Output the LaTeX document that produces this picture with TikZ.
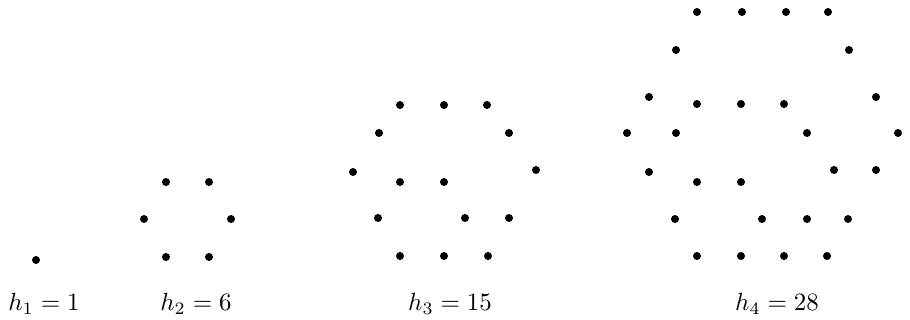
\documentclass[tikz,border=0pt]{standalone}
\usepackage{tikz}

\begin{document}
\begin{tikzpicture}[x=0.0141cm, y=-0.0141cm]
\useasboundingbox (0,0) rectangle (910,320);
% h_1
\fill[black] (36,260) circle (1.6pt);
% h_2
\fill[black] (166,182) circle (1.6pt);
\fill[black] (209,182) circle (1.6pt);
\fill[black] (144,219) circle (1.6pt);
\fill[black] (231,219) circle (1.6pt);
\fill[black] (166,257) circle (1.6pt);
\fill[black] (209,257) circle (1.6pt);
% h_3
\fill[black] (400,105) circle (1.6pt);
\fill[black] (444,105) circle (1.6pt);
\fill[black] (487,105) circle (1.6pt);
\fill[black] (379,133) circle (1.6pt);
\fill[black] (509,133) circle (1.6pt);
\fill[black] (353,172) circle (1.6pt);
\fill[black] (536,170) circle (1.6pt);
\fill[black] (400,182) circle (1.6pt);
\fill[black] (444,182) circle (1.6pt);
\fill[black] (378,218) circle (1.6pt);
\fill[black] (465,218) circle (1.6pt);
\fill[black] (509,218) circle (1.6pt);
\fill[black] (400,256) circle (1.6pt);
\fill[black] (444,256) circle (1.6pt);
\fill[black] (488,256) circle (1.6pt);
% h_4
\fill[black] (697,12) circle (1.6pt);
\fill[black] (742,12) circle (1.6pt);
\fill[black] (786,12) circle (1.6pt);
\fill[black] (828,12) circle (1.6pt);
\fill[black] (676,50) circle (1.6pt);
\fill[black] (849,50) circle (1.6pt);
\fill[black] (649,97) circle (1.6pt);
\fill[black] (876,97) circle (1.6pt);
\fill[black] (697,104) circle (1.6pt);
\fill[black] (741,104) circle (1.6pt);
\fill[black] (784,104) circle (1.6pt);
\fill[black] (627,133) circle (1.6pt);
\fill[black] (676,133) circle (1.6pt);
\fill[black] (807,133) circle (1.6pt);
\fill[black] (898,133) circle (1.6pt);
\fill[black] (649,172) circle (1.6pt);
\fill[black] (834,170) circle (1.6pt);
\fill[black] (876,170) circle (1.6pt);
\fill[black] (697,182) circle (1.6pt);
\fill[black] (741,182) circle (1.6pt);
\fill[black] (675,219) circle (1.6pt);
\fill[black] (762,219) circle (1.6pt);
\fill[black] (807,219) circle (1.6pt);
\fill[black] (848,219) circle (1.6pt);
\fill[black] (697,256) circle (1.6pt);
\fill[black] (741,256) circle (1.6pt);
\fill[black] (784,256) circle (1.6pt);
\fill[black] (827,256) circle (1.6pt);
% labels
\node[anchor=base] (lab1) at (44,311) {$h_1 = 1$};
\node[anchor=base] (lab2) at (196,311) {$h_2 = 6$};
\node[anchor=base] (lab3) at (450,311) {$h_3 = 15$};
\node[anchor=base] (lab4) at (777,311) {$h_4 = 28$};
\end{tikzpicture}
\end{document}
